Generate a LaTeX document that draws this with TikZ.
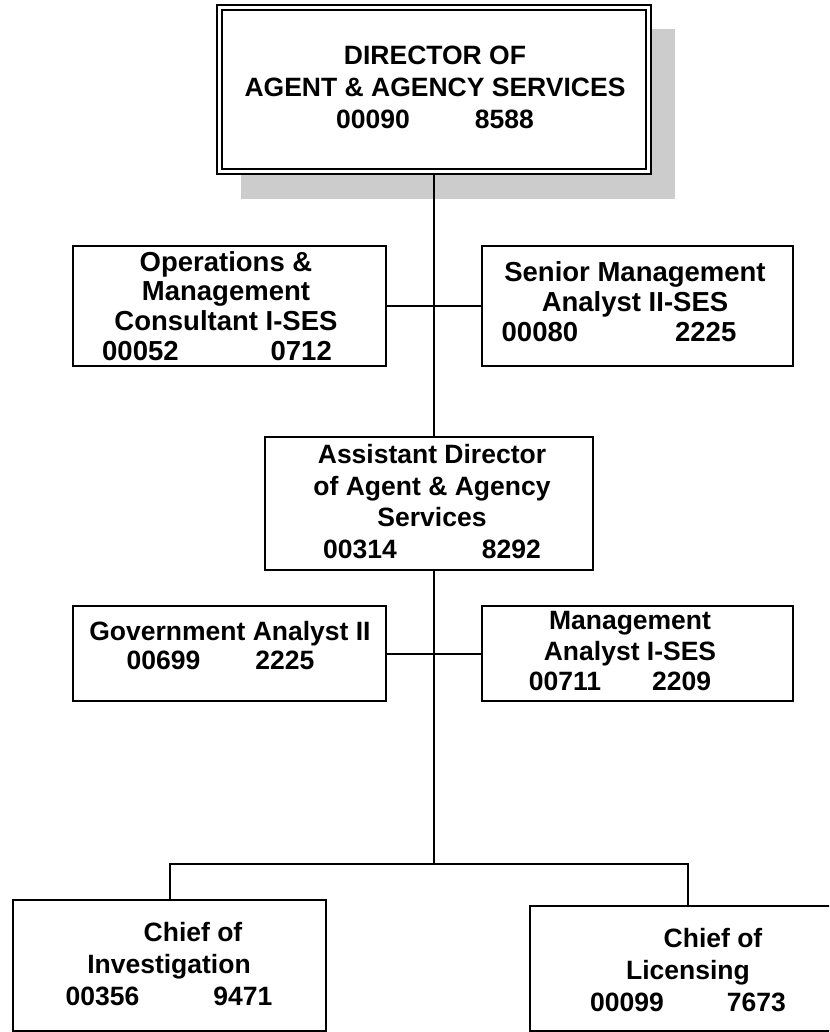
\documentclass[tikz,border=0pt]{standalone}
\usepackage{fontspec}
\setmainfont{Liberation Sans}
\usetikzlibrary{calc}
\pgfdeclarelayer{shade}
\pgfdeclarelayer{wires}
\pgfsetlayers{shade,wires,main}

\begin{document}
\begin{tikzpicture}[x=1pt,y=-1pt,
  post/.style={rectangle, draw=black, line width=2pt, fill=white, inner sep=0pt, outer sep=0pt},
  headpost/.style={post, double=white, double distance=3pt},
  caption/.style={align=center, inner sep=0pt, outer sep=0pt, text=black},
  wire/.style={draw=black, line width=2pt}
]
\useasboundingbox (0,0) rectangle (829,1032);
\clip (0,0) rectangle (829,1032);

% position boxes
\node[headpost, minimum width=429pt, minimum height=164pt] (dir)  at (434,89.5)  {};
\node[post, minimum width=313pt, minimum height=120pt]     (ops)  at (229.5,306) {};
\node[post, minimum width=311pt, minimum height=120pt]     (sen)  at (637.5,306) {};
\node[post, minimum width=328pt, minimum height=133pt]     (ad)   at (429,503.5) {};
\node[post, minimum width=313pt, minimum height=95pt]      (gov)  at (229.5,653.5) {};
\node[post, minimum width=311pt, minimum height=95pt]      (mgmt) at (637.5,653.5) {};
\node[post, minimum width=313pt, minimum height=131pt]     (inv)  at (169.5,965.5) {};
\node[post, minimum width=316pt, minimum height=125pt]     (lic)  at (688,968.5) {};
\coordinate (spine) at (434,864);

% titles and position numbers
\node[caption, font=\bfseries\fontsize{26.5}{32}\selectfont] (dir-t) at (435,87)
  {DIRECTOR OF\\AGENT \& AGENCY SERVICES\\00090\hspace{65pt}8588};
\node[caption, font=\bfseries\fontsize{27.5}{29.7}\selectfont] (ops-t) at (226,306)
  {Operations \&\\Management\\Consultant I-SES\\00052\hspace{92pt}0712\hspace*{18pt}};
\node[caption, font=\bfseries\fontsize{27.5}{30}\selectfont] (sen-t) at (635,301.5)
  {Senior Management\\Analyst II-SES\\00080\hspace{97pt}2225\hspace*{32pt}};
\node[caption, font=\bfseries\fontsize{26.5}{31.5}\selectfont] (ad-t) at (432,501.5)
  {Assistant Director\\of Agent \& Agency\\Services\\00314\hspace{85pt}8292};
\node[caption, font=\bfseries\fontsize{26.5}{29.5}\selectfont] (gov-t) at (230,645.5)
  {Government Analyst II\\00699\hspace{55pt}2225\hspace*{19pt}};
\node[caption, font=\bfseries\fontsize{26.5}{30.5}\selectfont] (mgmt-t) at (630,651.5)
  {Management\\Analyst I-SES\\00711\hspace{51pt}2209\hspace*{20pt}};
\node[caption, font=\bfseries\fontsize{26.5}{32}\selectfont] (inv-t) at (169,964.5)
  {\hspace*{48pt}Chief of\\Investigation\\00356\hspace{74pt}9471};
\node[caption, font=\bfseries\fontsize{26.5}{32}\selectfont] (lic-t) at (688,970.5)
  {\hspace*{50pt}Chief of\\Licensing\\00099\hspace{63pt}7673};

% drop shadow of the director box
\begin{pgfonlayer}{shade}
  \fill[black!20] ([shift={(21.5,21.5)}]dir.north west) rectangle ([shift={(26.5,27.5)}]dir.south east);
\end{pgfonlayer}

% reporting lines
\begin{pgfonlayer}{wires}
  \draw[wire] (dir.south) -- (dir.south |- ad.north);
  \draw[wire] (ops.east) -- (sen.west);
  \draw[wire] (dir.south |- ad.south) -- (spine);
  \draw[wire] (gov.east) -- (mgmt.west);
  \draw[wire] (inv.north) -- (inv.north |- spine) -- (lic.north |- spine) -- (lic.north);
\end{pgfonlayer}
\end{tikzpicture}
\end{document}
